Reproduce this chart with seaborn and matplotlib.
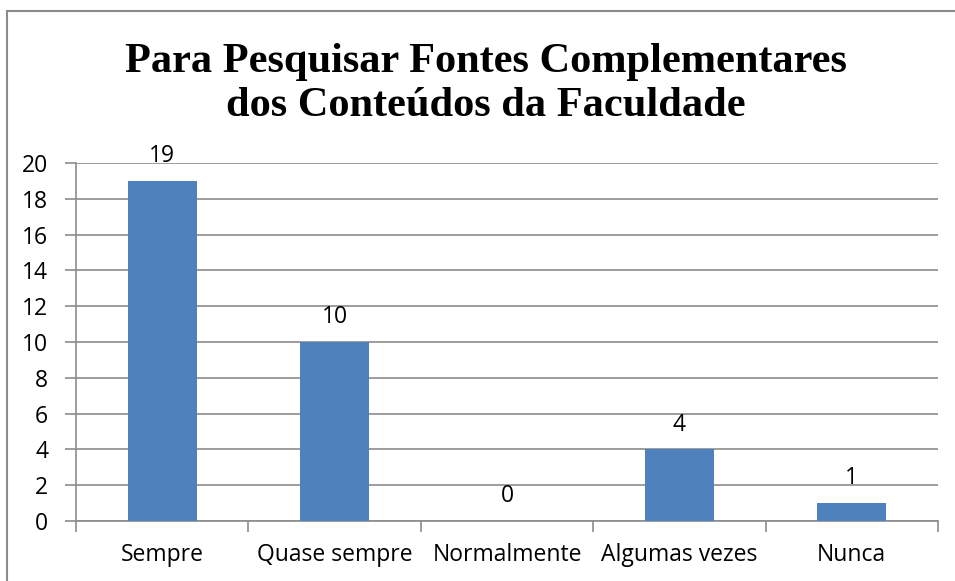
import matplotlib
matplotlib.use("Agg")
import matplotlib.pyplot as plt
import seaborn as sns
import pandas as pd
from matplotlib.patches import Rectangle

categories = ["Sempre", "Quase sempre", "Normalmente", "Algumas vezes", "Nunca"]
values = [19, 10, 0, 4, 1]
yticks = [0, 2, 4, 6, 8, 10, 12, 14, 16, 18, 20]
title = "Para Pesquisar Fontes Complementares\ndos Conteúdos da Faculdade"

sns.set_theme(style="white")
plt.rcParams['font.family'] = ['Open Sans', 'DejaVu Sans']
plt.rcParams['text.color'] = 'black'
plt.rcParams['xtick.labelcolor'] = 'black'
plt.rcParams['ytick.labelcolor'] = 'black'

df = pd.DataFrame({"cat": categories, "val": values})

fig = plt.figure(figsize=(9.55, 5.81), dpi=100)
fig.patch.set_facecolor("white")
fig.patches.append(Rectangle((7/955, -0.05), 1.05, 1 - 11/581 + 0.05,
                             transform=fig.transFigure, fill=False,
                             edgecolor="#8c8c8c", linewidth=1.5, zorder=0))

ax = fig.add_axes([76/955, 1 - 521/581, (938 - 76)/955, (521 - 163)/581])
sns.barplot(data=df, x="cat", y="val", color="#4F81BD", saturation=1,
            width=0.4, ax=ax, zorder=3, edgecolor="none")

ax.set_xlim(-0.5, len(categories) - 0.5)
ax.set_ylim(0, 20)
ax.set_yticks(yticks)
ax.set_yticklabels([str(t) for t in yticks], fontsize=16.5, color="black")
ax.yaxis.grid(True, color="#8c8c8c", linewidth=1.2, zorder=0)
ax.set_axisbelow(True)

# x ticks: marks at boundaries, labels at centers
ax.set_xticks([i - 0.5 for i in range(len(categories) + 1)])
ax.set_xticklabels([])
ax.set_xticks(range(len(categories)), minor=True)
ax.set_xticklabels(categories, minor=True, fontsize=16.5, color="black")
ax.tick_params(axis="x", which="major", length=8, width=1.2, color="#8c8c8c", direction="out")
ax.tick_params(axis="x", which="minor", length=0, pad=16)
ax.tick_params(axis="y", length=8, width=1.2, color="#8c8c8c", direction="out", pad=12)
ax.tick_params(axis="both", bottom=True, left=True)

for s in ["top", "right"]:
    ax.spines[s].set_visible(False)
for s in ["left", "bottom"]:
    ax.spines[s].set_color("#8c8c8c")
    ax.spines[s].set_linewidth(1.2)

ax.set_xlabel("")
ax.set_ylabel("")

for i, v in enumerate(values):
    ax.annotate(str(v), (i, v), xytext=(0, 13.5), textcoords="offset points",
                ha="center", va="baseline", fontsize=16.5, color="black")

fig.text(486/955, 1 - 84/581, title, ha="center", va="center",
         fontsize=30.5, fontweight="bold", family=["Liberation Serif", "DejaVu Serif"],
         linespacing=1.22, color="black")

fig.savefig("out.png", dpi=100)
